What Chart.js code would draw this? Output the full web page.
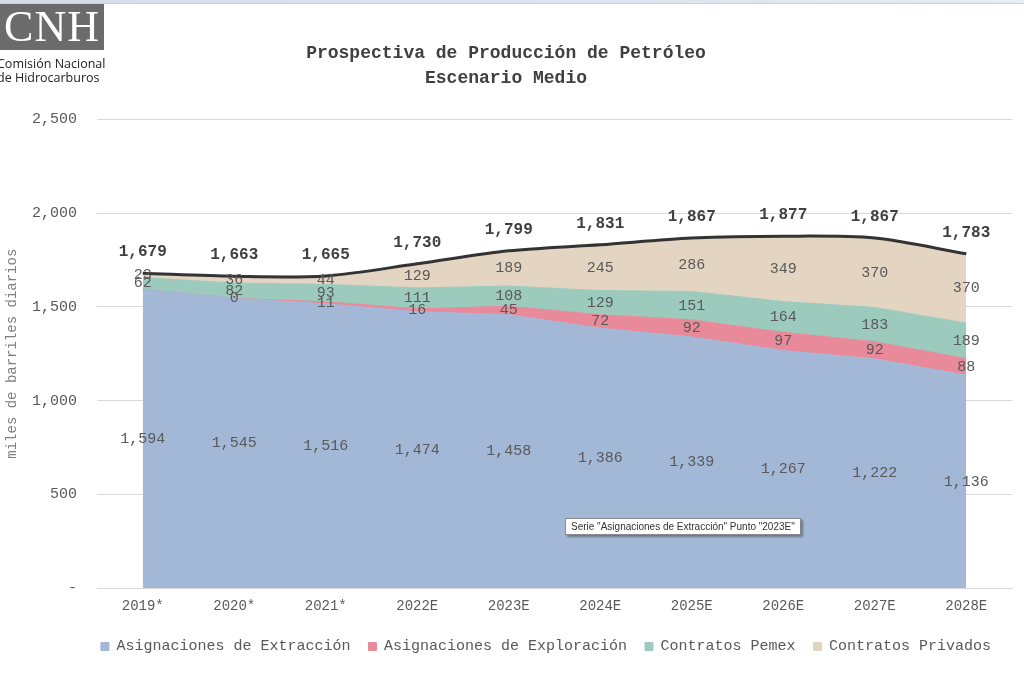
<!DOCTYPE html>
<html>
<head>
<meta charset="utf-8">
<script src="https://cdn.jsdelivr.net/npm/chart.js@4/dist/chart.umd.min.js"></script>
<style>
  html, body { margin: 0; padding: 0; background: #fff; }
  #wrap { position: relative; width: 1024px; height: 680px; overflow: hidden; }
  #topbar { position: absolute; left: 0; top: 0; width: 1024px; height: 3px;
    background: linear-gradient(to right, #d5dcea, #e6ebf4); border-bottom: 1px solid #d0d0d0; }
  #logo { position: absolute; left: 0; top: 4px; width: 104px; height: 46px; background: #6b6b6b;
    color: #fff; font-family: "Liberation Serif", serif; font-size: 44px; line-height: 46px;
    text-align: center; letter-spacing: 1px; }
  #logoText { position: absolute; left: -3px; top: 57px; font-family: "Open Sans", "Liberation Sans", sans-serif;
    font-size: 12.5px; line-height: 14px; color: #222; }
  #tip { position: absolute; left: 565px; top: 518px; padding: 2px 5px; background: #fff;
    border: 1px solid #8a8a8a; box-shadow: 2px 2px 2px rgba(0,0,0,0.35);
    font-family: "Liberation Sans", sans-serif; font-size: 10px; color: #333; white-space: nowrap; }
  canvas { position: absolute; left: 0; top: 0; }
</style>
</head>
<body>
<div id="wrap">
  <canvas id="prodChart" width="1024" height="680"></canvas>
  <div id="topbar"></div>
  <div id="logo">CNH</div>
  <div id="logoText">Comisión Nacional<br>de Hidrocarburos</div>
  <div id="tip">Serie "Asignaciones de Extracción" Punto "2023E"</div>
</div>
<script>
// Datos (miles de barriles diarios)
const years = ['2019*', '2020*', '2021*', '2022E', '2023E', '2024E', '2025E', '2026E', '2027E', '2028E'];
const extraccion = [1594, 1545, 1516, 1474, 1458, 1386, 1339, 1267, 1222, 1136];
const exploracion = [0, 0, 11, 16, 45, 72, 92, 97, 92, 88];
const pemex = [62, 82, 93, 111, 108, 129, 151, 164, 183, 189];
const privados = [23, 36, 44, 129, 189, 245, 286, 349, 370, 370];
const totales = [1679, 1663, 1665, 1730, 1799, 1831, 1867, 1877, 1867, 1783];
const yTicks = [0, 500, 1000, 1500, 2000, 2500];

const mono = '"Liberation Mono", "DejaVu Sans Mono", monospace';
const fmt = v => v.toLocaleString('en-US');

const series = [
    { label: 'Asignaciones de Extracción', data: extraccion, color: '#a3b7d6' },
    { label: 'Asignaciones de Exploración', data: exploracion, color: '#e98a9b' },
    { label: 'Contratos Pemex', data: pemex, color: '#9ccbbd' },
    { label: 'Contratos Privados', data: privados, color: '#e3d5c2' }
];

// labels inside the bands + totals above the line
const valueLabels = {
    id: 'valueLabels',
    afterLayout(chart) {
        // the original legend sits a bit right of centre
        chart.legend.left += 40;
        chart.legend.right += 40;
    },
    afterDatasetsDraw(chart) {
        const { ctx, scales: { x, y } } = chart;
        ctx.save();
        ctx.textAlign = 'center';
        ctx.textBaseline = 'middle';
        ctx.font = '15px ' + mono;
        ctx.fillStyle = '#595959';
        years.forEach((yr, i) => {
            let base = 0;
            series.forEach((s, si) => {
                const v = s.data[i];
                // Excel hides the zero label on the first year
                if (!(si === 1 && i === 0)) {
                    ctx.fillText(fmt(v), x.getPixelForValue(i), y.getPixelForValue(base + v / 2));
                }
                base += v;
            });
        });
        ctx.font = 'bold 16px ' + mono;
        ctx.fillStyle = '#404040';
        totales.forEach((t, i) => {
            ctx.fillText(fmt(t), x.getPixelForValue(i), y.getPixelForValue(t) - 21);
        });
        ctx.restore();
    }
};

const datasets = series.map((s, i) => ({
    label: s.label,
    data: s.data,
    backgroundColor: s.color,
    borderColor: s.color,
    borderWidth: 1,
    pointRadius: 0,
    fill: i === 0 ? 'origin' : '-1',
    stack: 'prod',
    tension: 0
}));
datasets.push({
    label: 'Total',
    data: totales,
    borderColor: '#333333',
    borderWidth: 3,
    pointRadius: 0,
    fill: false,
    stack: 'total',
    tension: 0.3,
    order: -1
});

new Chart(document.getElementById('prodChart'), {
    type: 'line',
    data: { labels: years, datasets: datasets },
    options: {
        responsive: false,
        animation: false,
        layout: { padding: { left: 0, right: 12, top: 0, bottom: 16 } },
        plugins: {
            title: {
                display: true,
                text: ['Prospectiva de Producción de Petróleo', 'Escenario Medio'],
                color: '#404040',
                font: { family: mono, size: 18, weight: 'bold', lineHeight: 1.4 },
                padding: { top: 41, bottom: 28 }
            },
            legend: {
                position: 'bottom',
                labels: {
                    filter: item => item.text !== 'Total',
                    color: '#595959',
                    font: { family: mono, size: 15 },
                    boxWidth: 8,
                    boxHeight: 8,
                    padding: 18
                }
            },
            tooltip: { enabled: false }
        },
        scales: {
            x: {
                offset: true,
                afterFit(scale) { scale.height = 33; },
                grid: { display: false, drawTicks: false },
                border: { display: true, color: '#d9d9d9' },
                ticks: { color: '#595959', font: { family: mono, size: 14 }, padding: 10 }
            },
            y: {
                stacked: true,
                min: 0,
                max: 2500,
                afterFit(scale) { scale.width = 97; },
                afterBuildTicks(scale) { scale.ticks = yTicks.map(v => ({ value: v })); },
                grid: { color: '#d9d9d9', drawTicks: false },
                border: { display: false },
                ticks: {
                    color: '#595959',
                    font: { family: mono, size: 15 },
                    padding: 20,
                    callback: v => v === 0 ? '-' : fmt(v)
                },
                title: {
                    display: true,
                    text: 'miles de barriles diarios',
                    color: '#7f7f7f',
                    font: { family: mono, size: 14 },
                    padding: { top: 4, bottom: 0 }
                }
            }
        }
    },
    plugins: [valueLabels]
});
</script>
</body>
</html>
